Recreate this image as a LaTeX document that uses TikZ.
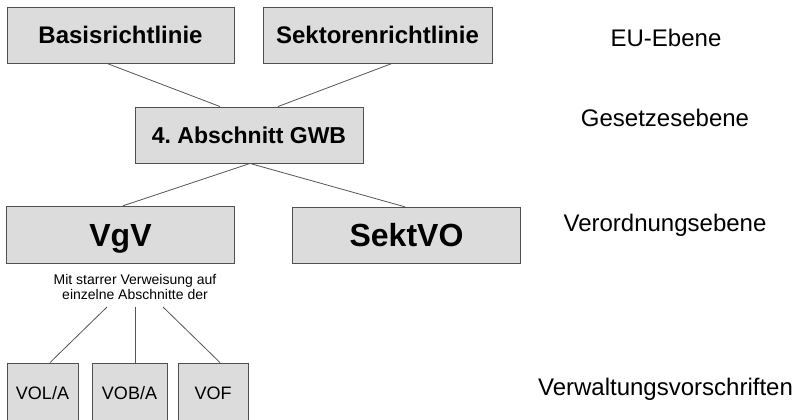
\documentclass[tikz,border=0pt]{standalone}
\usepackage{fontspec}
\newfontfamily\af{Liberation Sans}
\usetikzlibrary{calc}
\frenchspacing
\definecolor{boxfill}{HTML}{DCDCDC}
\definecolor{boxline}{HTML}{505050}
\definecolor{conn}{HTML}{555555}
\tikzset{
  box/.style={draw=boxline, fill=boxfill, line width=0.9pt, inner sep=0pt, text height=17.2pt, text depth=0pt, font=\af\bfseries\fontsize{24}{28}\selectfont},
  bigbox/.style={box, text height=22.9pt, font=\af\bfseries\fontsize{32}{36}\selectfont},
  smallbox/.style={box, text height=12.9pt, font=\af\fontsize{18}{21}\selectfont},
  level/.style={font=\af\fontsize{24}{28}\selectfont, inner sep=0pt, text height=17.2pt, text depth=0pt},
  conline/.style={draw=conn, line width=0.8pt}
}
\begin{document}
\begin{tikzpicture}[x=1pt,y=-1pt]
\clip (0,0) rectangle (800,420);
\fill[white] (0,0) rectangle (800,420);
% top level boxes
\node[box, minimum width=227pt, minimum height=56pt] (basis) at (120.5,35) {Basisrichtlinie};
\node[box, minimum width=229pt, minimum height=56pt] (sektor) at (377.5,35) {Sektorenrichtlinie};
\node[box, minimum width=228pt, minimum height=56pt, text height=16.5pt, font=\af\bfseries\fontsize{23}{27}\selectfont] (gwb) at (249,135) {4. Abschnitt GWB};
\node[bigbox, minimum width=228pt, minimum height=57pt] (vgv) at (120.5,234.7) {VgV};
\node[bigbox, minimum width=228pt, minimum height=56pt] (sekt) at (406.5,235.3) {SektVO};
% note text
\node[font=\af\fontsize{14}{15}\selectfont, align=center, inner sep=0pt, anchor=north] (note) at (135,274.5) {Mit starrer Verweisung auf\\einzelne Abschnitte der};
\coordinate (n1) at (107,307);
\coordinate (n2) at (135,307);
\coordinate (n3) at (163,307);
% bottom boxes
\node[smallbox, minimum width=71pt, minimum height=60pt] (vola) at (42.5,393) {VOL/A};
\node[smallbox, minimum width=75pt, minimum height=60pt] (voba) at (129.5,393) {VOB/A};
\node[smallbox, minimum width=70pt, minimum height=60pt] (vof) at (213,393) {VOF};
% connectors
\draw[conline] ($(basis.south)+(-13.5,0)$) -- ($(gwb.north)+(-29,0)$);
\draw[conline] ($(sektor.south)+(14.5,0)$) -- ($(gwb.north)+(29,0)$);
\draw[conline] ($(gwb.south)+(1,0)$) -- ($(vgv.north)+(2.5,0)$);
\draw[conline] ($(gwb.south)+(1,0)$) -- ($(sekt.north)+(-1.5,0)$);
\draw[conline] (n1) -- ($(vola.north)+(7.5,0)$);
\draw[conline] (n2) -- ($(voba.north)+(5.5,0)$);
\draw[conline] (n3) -- ($(vof.north)+(7,0)$);
% level labels
\node[level] (eu) at (666,37.5) {EU-Ebene};
\node[level] (ges) at (665,118) {Gesetzesebene};
\node[level] (vo) at (665,223) {Verordnungsebene};
\node[level] (vw) at (665.5,386.5) {Verwaltungsvorschriften};
\end{tikzpicture}
\end{document}
